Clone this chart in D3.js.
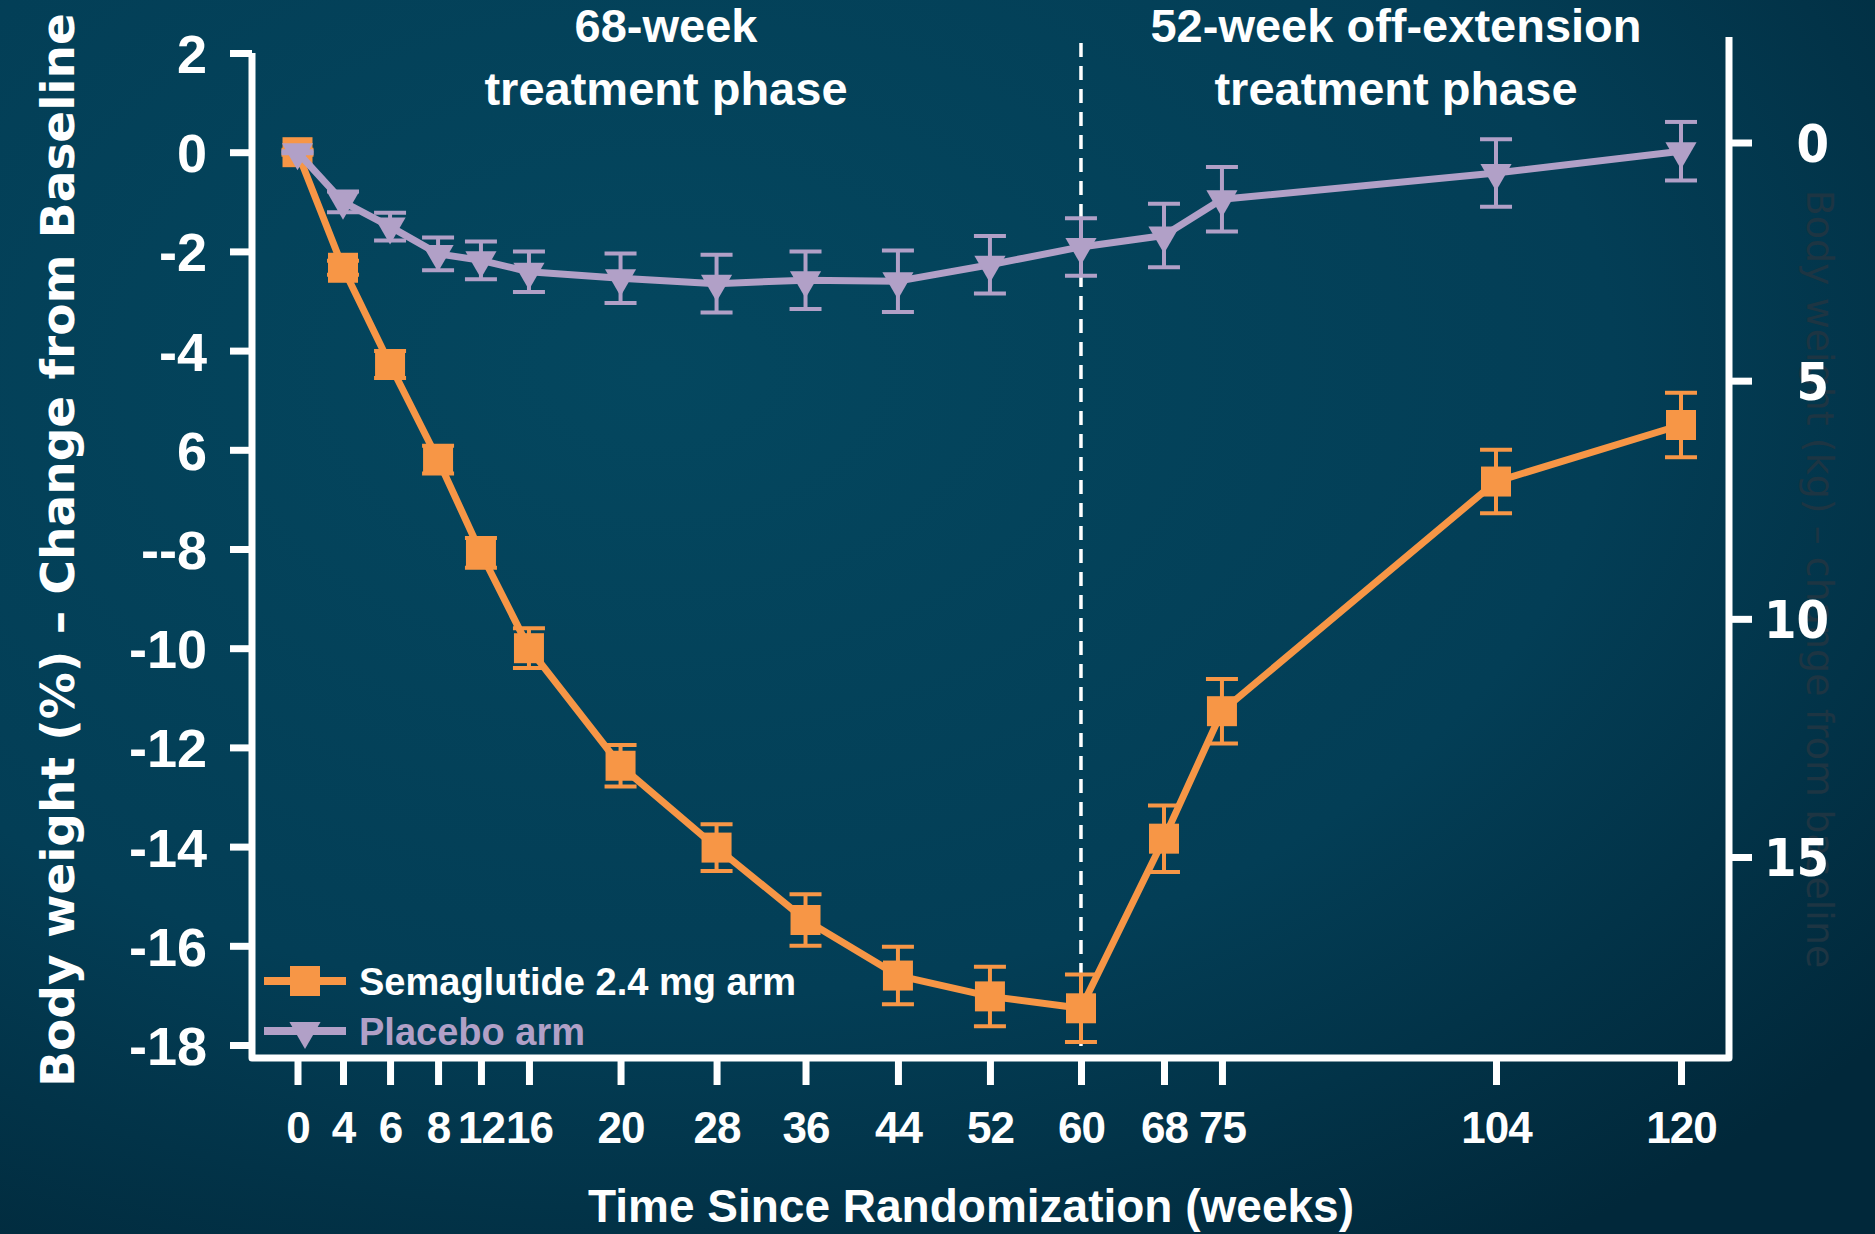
<!DOCTYPE html>
<html>
<head>
<meta charset="utf-8">
<script src="https://cdn.jsdelivr.net/npm/d3@7"></script>
<style>
html, body { margin: 0; padding: 0; background: #03435c; }
svg { display: block; }
text { font-family: "Liberation Sans", Arial, sans-serif; font-weight: bold; fill: #fff; }
</style>
</head>
<body>
<svg id="chart" width="1875" height="1234"></svg>
<script>
// data
var weeks = [0, 4, 6, 8, 12, 16, 20, 28, 36, 44, 52, 60, 68, 75, 104, 120];
var semaMean = [0, -2.33, -4.28, -6.2, -8.08, -10.0, -12.37, -14.02, -15.48, -16.6, -17.02, -17.26, -13.84, -11.27, -6.64, -5.5];
var semaErr  = [0.05, 0.14, 0.27, 0.28, 0.3, 0.4, 0.42, 0.47, 0.52, 0.58, 0.6, 0.68, 0.67, 0.65, 0.64, 0.65];
var placMean = [0, -1.0, -1.5, -2.05, -2.18, -2.41, -2.54, -2.65, -2.58, -2.6, -2.27, -1.91, -1.68, -0.95, -0.42, 0.02];
var placErr  = [0.02, 0.21, 0.28, 0.33, 0.38, 0.41, 0.5, 0.58, 0.58, 0.62, 0.58, 0.58, 0.64, 0.65, 0.68, 0.59];

var yTicks = [2, 0, -2, -4, -6, -8, -10, -12, -14, -16, -18];
var yTickLabels = ["2", "0", "-2", "-4", "6", "--8", "-10", "-12", "-14", "-16", "-18"];
var kgTicks = [0, 5, 10, 15];

var seriesNames = ["Semaglutide 2.4 mg arm", "Placebo arm"];
var phaseLeft = ["68-week", "treatment phase"];
var phaseRight = ["52-week off-extension", "treatment phase"];

var orange = "#f79646", lilac = "#b1a0c7";

var svg = d3.select("#chart"),
	W = +svg.attr("width"),
	H = +svg.attr("height");

// background
var defs = svg.append("defs");
var grad = defs.append("radialGradient").attr("id", "bg")
	.attr("cx", "35%").attr("cy", "30%").attr("r", "85%");
grad.append("stop").attr("offset", "0%").attr("stop-color", "#04475f");
grad.append("stop").attr("offset", "60%").attr("stop-color", "#033e56");
grad.append("stop").attr("offset", "100%").attr("stop-color", "#01283a");
svg.append("rect").attr("width", W).attr("height", H).attr("fill", "url(#bg)");

// layout
var axL = 252, axR = 1729, axB = 1058, axTopR = 37;
var x0 = 297.5, x1 = 1681;
// the week axis is not linear: slot fractions along the axis
var weekFrac = [0, .0329, .0669, .1016, .1326, .1673, .2335, .3029, .3672, .4340, .5005, .5663, .6263, .6682, .8663, 1];

var x = d3.scaleLinear()
	.domain(weeks)
	.range(weekFrac.map(function(f) { return x0 + f * (x1 - x0); }));
var y = d3.scaleLinear().domain([-18, 2]).range([1045, 53]);
var yKg = d3.scaleLinear().domain([0, 15]).range([142.5, 857]);

// faint right-hand title sits behind the kg tick labels
svg.append("text")
	.attr("transform", "translate(1807,579) rotate(90)")
	.attr("text-anchor", "middle")
	.style("font-family", "'DejaVu Sans', sans-serif").style("font-weight", "normal")
	.style("font-size", "38px").style("fill", "#1d3543")
	.text("Body weight (kg) \u2013 change from baseline");

// frame lines
svg.append("path")
	.attr("d", "M" + axL + "," + y(2) + "V" + axB + "H" + axR + "V" + axTopR)
	.attr("fill", "none").attr("stroke", "#fff").attr("stroke-width", 7)
	.attr("stroke-linejoin", "round");

// left axis
var gy = svg.append("g").attr("transform", "translate(" + axL + ",0)")
	.call(d3.axisLeft(y).tickValues(yTicks).tickSize(22).tickPadding(23)
		.tickFormat(function(d, i) { return yTickLabels[i]; }));
gy.select(".domain").remove();
gy.selectAll("line").attr("stroke", "#fff").attr("stroke-width", 7);
gy.selectAll("text").attr("fill", "#fff").style("font-size", "54px").attr("dy", "0.36em");

// bottom axis
var gx = svg.append("g").attr("transform", "translate(0," + axB + ")")
	.call(d3.axisBottom(x).tickValues(weeks).tickSize(27));
gx.select(".domain").remove();
gx.selectAll("line").attr("stroke", "#fff").attr("stroke-width", 7);
gx.selectAll("text").attr("fill", "#fff").style("font-size", "44px")
	.style("letter-spacing", "-1px")
	.attr("y", 85).attr("dy", 0);

// right axis (kg)
var gr = svg.append("g").attr("transform", "translate(" + axR + ",0)")
	.call(d3.axisRight(yKg).tickValues(kgTicks).tickSize(23));
gr.select(".domain").remove();
gr.selectAll("line").attr("stroke", "#fff").attr("stroke-width", 7);
gr.selectAll("text").attr("fill", "#fff")
	.style("font-family", "'DejaVu Sans Condensed', 'DejaVu Sans', sans-serif")
	.style("font-size", "52px").attr("text-anchor", "end").attr("x", 100).attr("dy", "0.36em");

// axis titles
svg.append("text")
	.attr("transform", "translate(74,550) rotate(-90)")
	.attr("text-anchor", "middle")
	.style("font-family", "'DejaVu Sans', sans-serif").style("font-size", "47px")
	.text("Body weight (%) \u2013 Change from Baseline");

svg.append("text")
	.attr("x", 971).attr("y", 1222).attr("text-anchor", "middle")
	.style("font-size", "46px")
	.text("Time Since Randomization (weeks)");

// phase labels
[[phaseLeft, 666], [phaseRight, 1396]].forEach(function(p) {
	p[0].forEach(function(t, i) {
		svg.append("text").attr("x", p[1]).attr("y", 42 + i * 63)
			.attr("text-anchor", "middle").style("font-size", "47px").text(t);
	});
});

// 60-week divider
svg.append("line")
	.attr("x1", x(60)).attr("x2", x(60)).attr("y1", 43).attr("y2", axB)
	.attr("stroke", "#fff").attr("stroke-width", 3.5).attr("stroke-dasharray", "14,9");

// series
function drawSeries(mean, err, color, marker) {
	var pts = weeks.map(function(w, i) { return { w: w, m: mean[i], e: err[i] }; });
	var g = svg.append("g");

	g.append("path").datum(pts)
		.attr("fill", "none").attr("stroke", color).attr("stroke-width", 7)
		.attr("stroke-linejoin", "round")
		.attr("d", d3.line().x(function(d) { return x(d.w); }).y(function(d) { return y(d.m); }));

	var eb = g.selectAll(".eb").data(pts).enter().append("g")
		.attr("stroke", color).attr("stroke-width", 4);
	eb.append("line")
		.attr("x1", function(d) { return x(d.w); }).attr("x2", function(d) { return x(d.w); })
		.attr("y1", function(d) { return y(d.m + d.e); }).attr("y2", function(d) { return y(d.m - d.e); });
	eb.append("line")
		.attr("x1", function(d) { return x(d.w) - 16; }).attr("x2", function(d) { return x(d.w) + 16; })
		.attr("y1", function(d) { return y(d.m + d.e); }).attr("y2", function(d) { return y(d.m + d.e); });
	eb.append("line")
		.attr("x1", function(d) { return x(d.w) - 16; }).attr("x2", function(d) { return x(d.w) + 16; })
		.attr("y1", function(d) { return y(d.m - d.e); }).attr("y2", function(d) { return y(d.m - d.e); });

	g.selectAll(".mk").data(pts).enter().append("path")
		.attr("fill", color)
		.attr("d", marker)
		.attr("transform", function(d) {
			return "translate(" + x(d.w) + "," + y(d.m) + ")" + (marker === tri ? " rotate(180)" : "");
		});
}

var sq = d3.symbol(d3.symbolSquare, 900)();
var tri = d3.symbol(d3.symbolTriangle, 420)();

drawSeries(semaMean, semaErr, orange, sq);
drawSeries(placMean, placErr, lilac, tri);

// legend
var legend = svg.append("g");
[[orange, sq, "#fff", 981], [lilac, tri, lilac, 1031]].forEach(function(l, i) {
	legend.append("line").attr("x1", 264).attr("x2", 346).attr("y1", l[3]).attr("y2", l[3])
		.attr("stroke", l[0]).attr("stroke-width", 8);
	legend.append("path").attr("d", l[1]).attr("fill", l[0])
		.attr("transform", "translate(305," + l[3] + ")" + (l[1] === tri ? " rotate(180)" : ""));
	legend.append("text").attr("x", 359).attr("y", l[3] + 14)
		.style("font-size", "38px").style("fill", l[2]).text(seriesNames[i]);
});
</script>
</body>
</html>
